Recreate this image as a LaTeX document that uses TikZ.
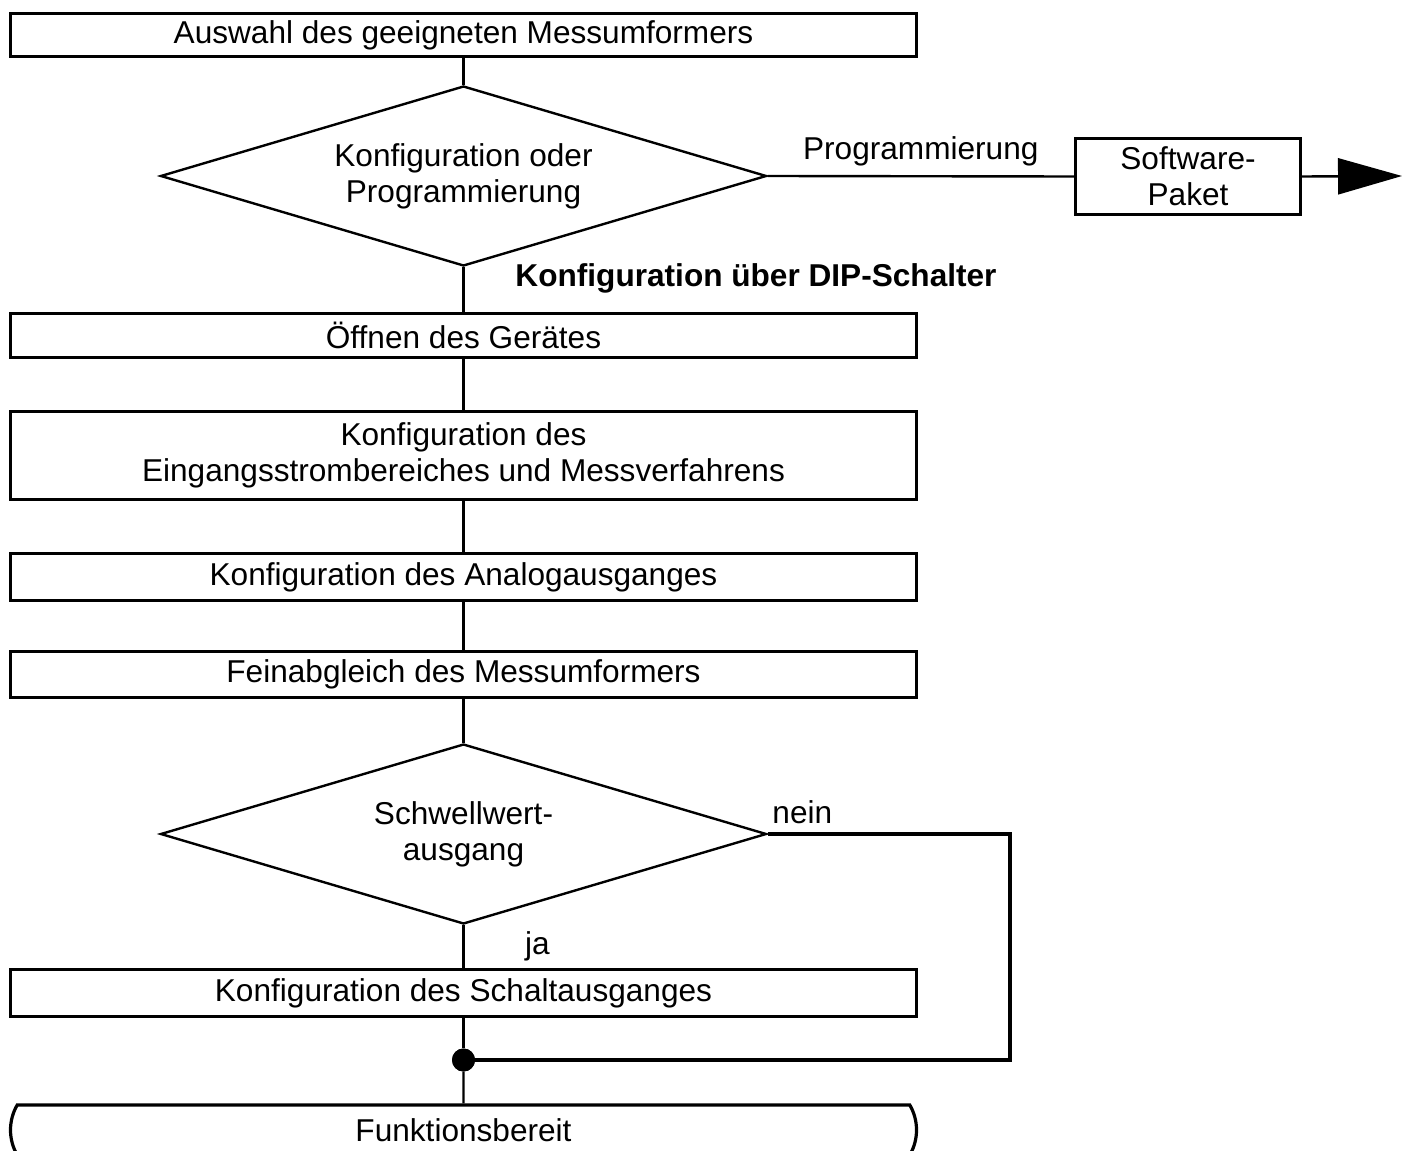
\documentclass[tikz,border=0pt]{standalone}
\usepackage{fontspec}
\setmainfont{Liberation Sans}
\usetikzlibrary{positioning,arrows.meta,shapes.geometric,shapes.misc}
\tikzset{
flow/.style={
    x=0.5pt,
    y=-0.5pt,
    font=\fontsize{15.8}{18}\selectfont
},
process/.style={
    rectangle,
    draw,
    line width=1.6pt,
    minimum width=453pt,
    inner sep=0pt,
    align=center
},
decision/.style={
    diamond,
    aspect=3.35,
    draw,
    line width=1.2pt,
    minimum width=303pt,
    minimum height=90pt,
    inner sep=0pt,
    align=center
},
terminal/.style={
    rounded rectangle,
    rounded rectangle arc length=60,
    draw,
    line width=1.6pt,
    minimum width=453pt,
    minimum height=25pt,
    inner sep=0pt
},
link/.style={
    line width=1.2pt
},
back/.style={
    line width=1.6pt
},
junction/.style={
    circle,
    fill=black,
    inner sep=0pt,
    minimum size=11.5pt
}}

\begin{document}
\begin{tikzpicture}[flow]
\useasboundingbox (0,0) rectangle (1406,1150);

\node[process, minimum height=21.5pt]   (auswahl)  at (463.5,35)    {Auswahl des geeigneten Messumformers};
\node[decision]                         (wahl)     at (463.5,176)   {Konfiguration oder\\Programmierung};
\node[process, minimum width=112.5pt, minimum height=38pt] (software) at (1188,176.5) {Software-\\Paket};
\coordinate                             (pfeil)    at (1402,176);
\node[font=\fontsize{15.8}{18}\selectfont\bfseries] (dip) at (756,278) {Konfiguration über DIP-Schalter};
\node[process, minimum height=22pt]     (oeffnen)  at (463.5,335.5) {Öffnen des Gerätes};
\node[process, minimum height=44pt]     (eingang)  at (463.5,455.5) {Konfiguration des\\Eingangsstrombereiches und Messverfahrens};
\node[process, minimum height=23.5pt]   (analog)   at (463.5,577)   {Konfiguration des Analogausganges};
\node[process, minimum height=23pt]     (fein)     at (463.5,674.5) {Feinabgleich des Messumformers};
\node[decision]                         (schwelle) at (463.5,834)   {Schwellwert-\\ausgang};
\node[process, minimum height=23.5pt]   (schalt)   at (463.5,993)   {Konfiguration des Schaltausganges};
\node[junction]                         (punkt)    at (463.5,1060)  {};
\node[terminal]                         (bereit)   at (463.5,1130)  {Funktionsbereit};
\coordinate                             (ecke1)    at (1010,834);
\coordinate                             (ecke2)    at (1010,1060);

\path    (auswahl)    edge[link]    (wahl);
\path    (wahl)       edge[link]    (oeffnen);
\path    (oeffnen)    edge[link]    (eingang);
\path    (eingang)    edge[link]    (analog);
\path    (analog)     edge[link]    (fein);
\path    (fein)       edge[link]    (schwelle);
\path    (schwelle)   edge[link]    node[midway, xshift=37pt] {ja}    (schalt);
\path    (schalt)     edge[link]    (punkt);
\path    (punkt)      edge[link]    (bereit);

\draw[link] (wahl.east) -- node[midway, above=1pt] {Programmierung} (software.west);
\draw[link, -{Triangle[length=32pt,width=18pt]}] (software.east) -- (pfeil);

% nein-Zweig
\draw[back] (schwelle.east) -- node[pos=0.143, above=1pt] {nein} (ecke1) -- (ecke2) -- (punkt.center);
\node[junction] at (punkt) {};
\end{tikzpicture}
\end{document}
